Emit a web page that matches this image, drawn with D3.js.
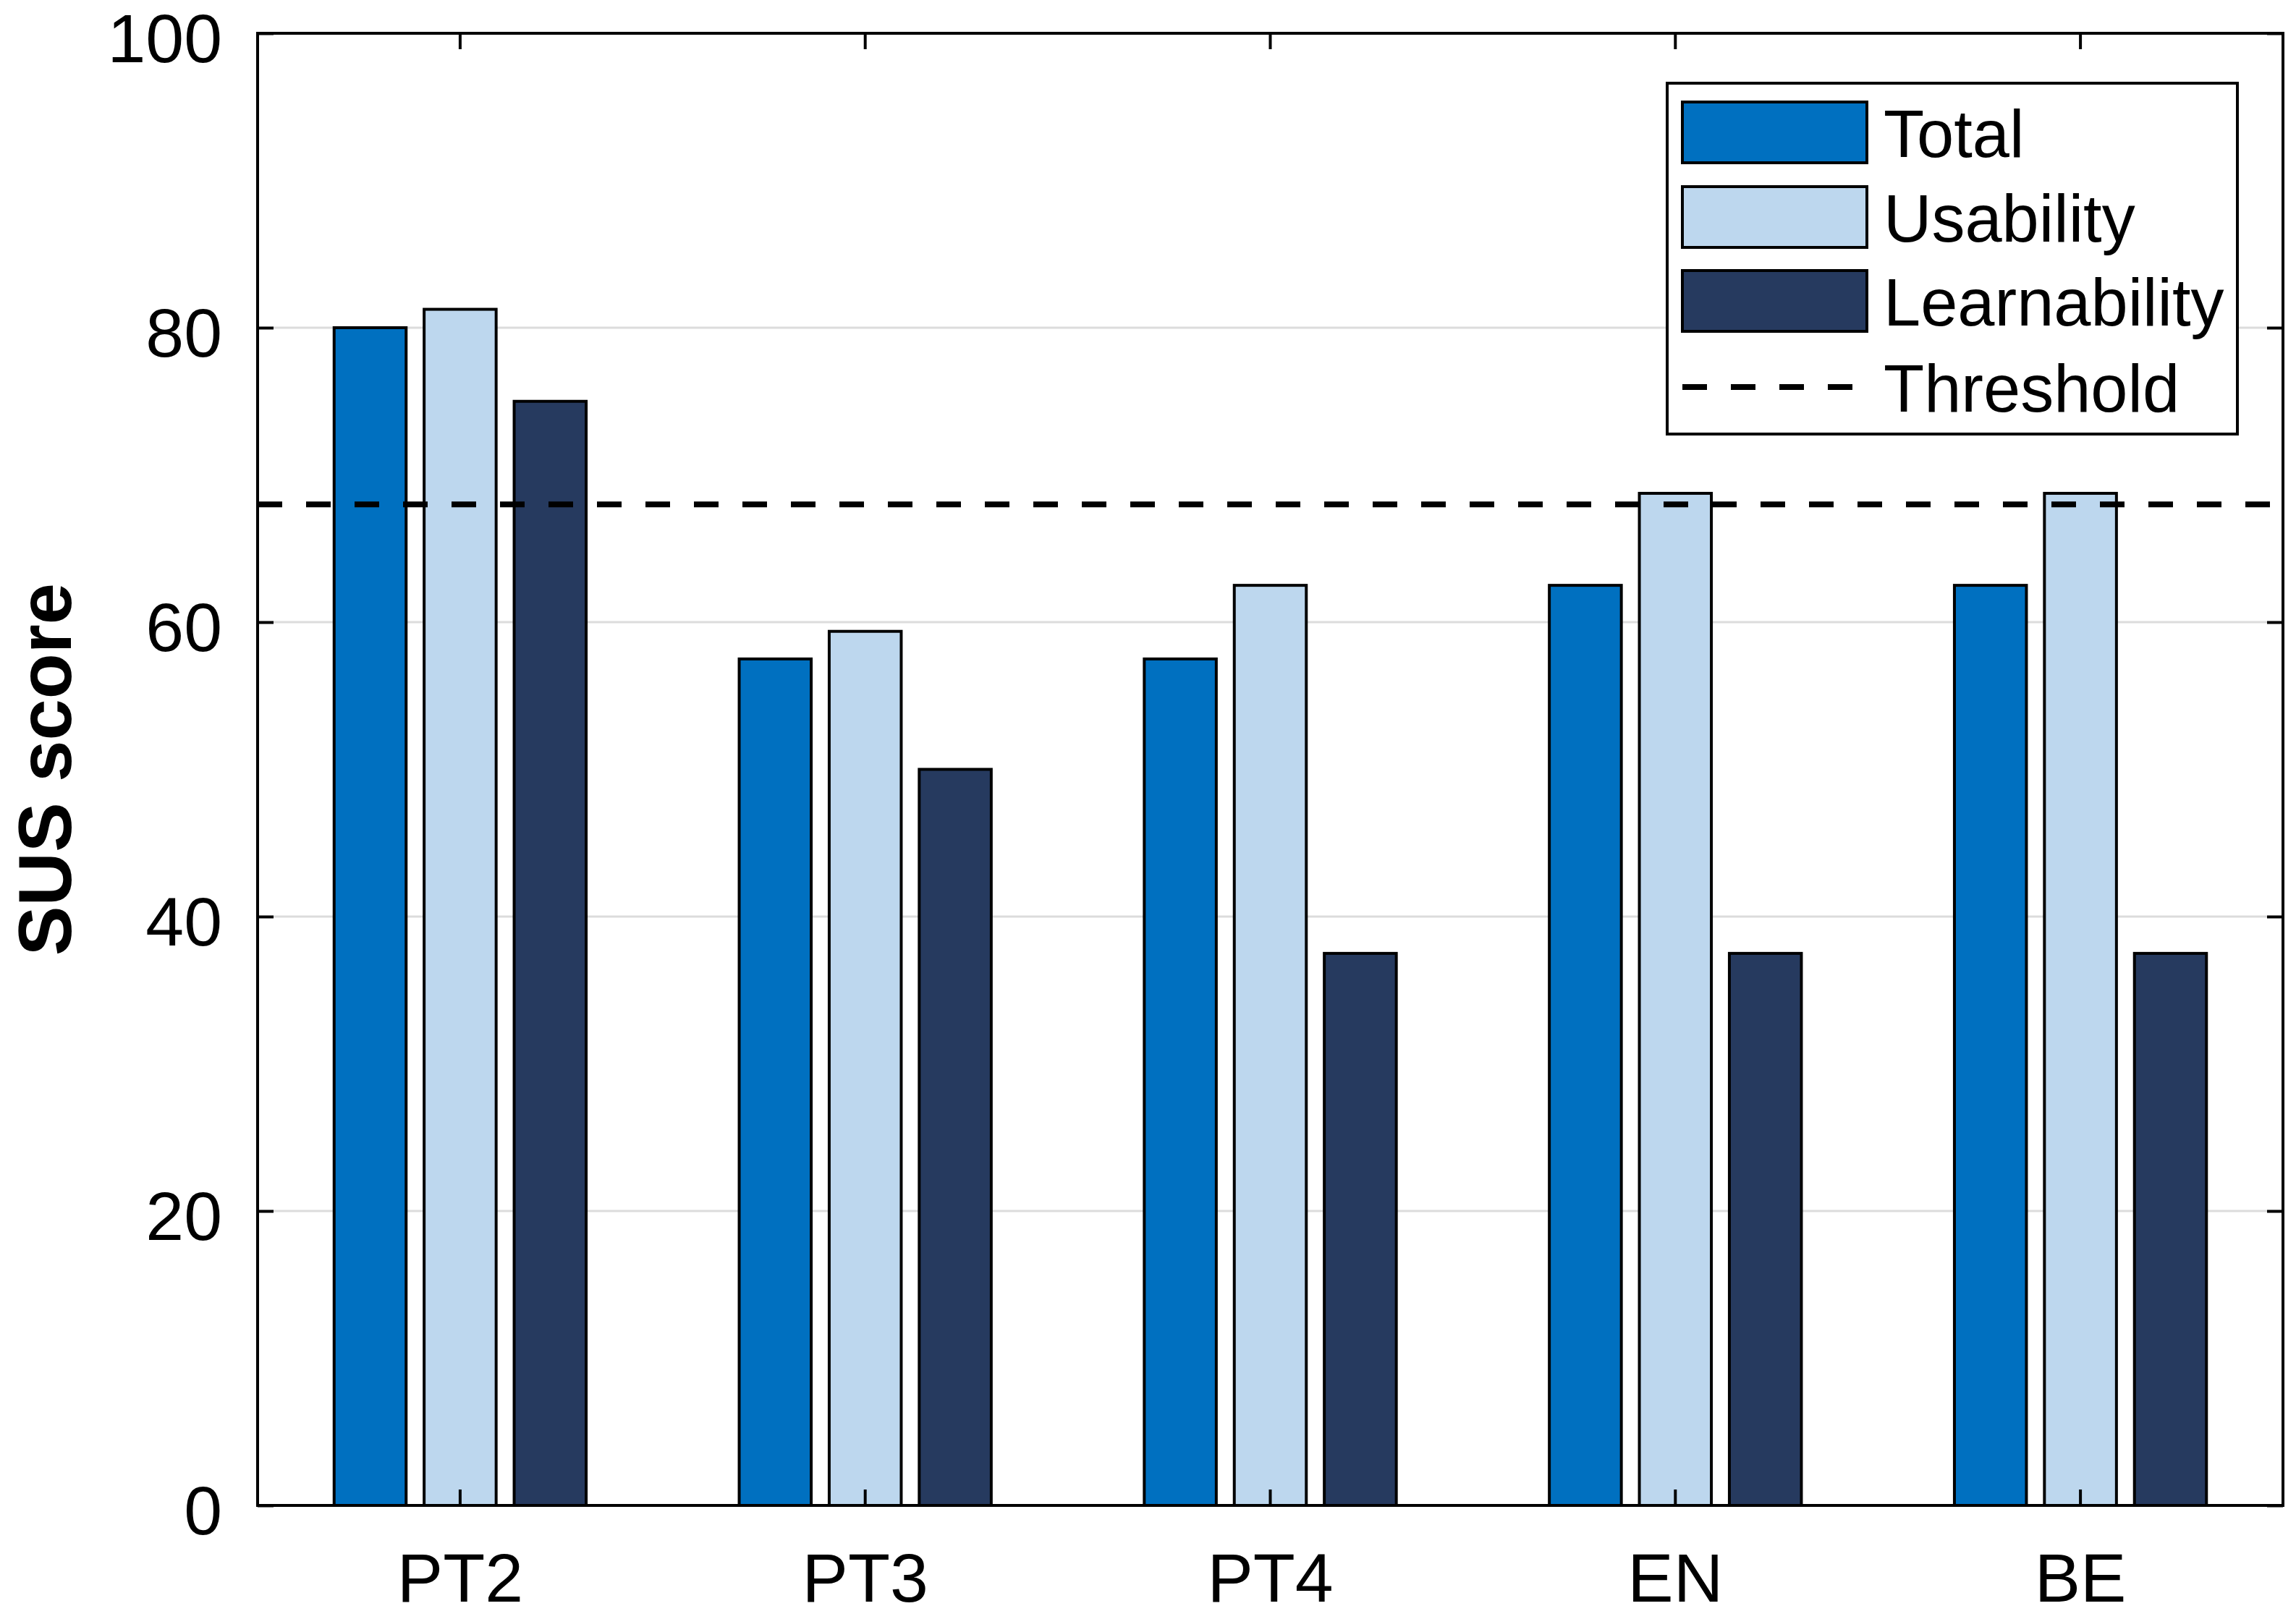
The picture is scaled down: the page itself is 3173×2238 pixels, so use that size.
<!DOCTYPE html>
<html>
<head>
<meta charset="utf-8">
<script src="https://cdn.jsdelivr.net/npm/d3@7"></script>
<style>
  html, body { margin: 0; padding: 0; background: #fff; }
  svg { display: block; }
  text { font-family: "Liberation Sans", Arial, Helvetica, sans-serif; fill: #000; }
</style>
</head>
<body>
<svg id="chart" width="3173" height="2238"></svg>
<script>
// ---- data ----
const categories = ["PT2", "PT3", "PT4", "EN", "BE"];
const seriesNames = ["Total", "Usability", "Learnability"];
const totalValues = [80, 57.5, 57.5, 62.5, 62.5];
const usabilityValues = [81.25, 59.375, 62.5, 68.75, 68.75];
const learnabilityValues = [75, 50, 37.5, 37.5, 37.5];
const thresholdValue = 68;
const thresholdLabel = "Threshold";
const yTicks = [0, 20, 40, 60, 80, 100];
const yLabel = "SUS score";
const seriesColors = ["#0070c0", "#bdd7ee", "#263a5f"];

const seriesValues = [totalValues, usabilityValues, learnabilityValues];

// ---- layout ----
const svg = d3.select("#chart");
const W = 3173, H = 2238;
const margin = { left: 356, right: W - 3155, top: 46, bottom: H - 2081 };
const plotW = W - margin.left - margin.right;
const plotH = H - margin.top - margin.bottom;
const g = svg.append("g").attr("transform", `translate(${margin.left},${margin.top})`);

const x0 = d3.scaleBand().domain(categories).range([0, plotW]).padding(0);
const groupFrac = 3 / 4.5;
const x1 = d3.scaleBand().domain(seriesNames)
  .range([-x0.bandwidth() * groupFrac / 2, x0.bandwidth() * groupFrac / 2]).padding(0);
const barW = x1.bandwidth() * 0.8;
const y = d3.scaleLinear().domain([0, 100]).range([plotH, 0]);
const color = d3.scaleOrdinal().domain(seriesNames).range(seriesColors);

// gridlines
g.append("g").selectAll("line").data(yTicks.filter(t => t > 0 && t < 100)).join("line")
  .attr("x1", 0).attr("x2", plotW)
  .attr("y1", d => y(d)).attr("y2", d => y(d))
  .attr("stroke", "#dcdcdc").attr("stroke-width", 3);

// bars
const rows = [];
categories.forEach((c, i) => seriesNames.forEach((s, j) => rows.push({ cat: c, series: s, value: seriesValues[j][i] })));
g.append("g").selectAll("rect").data(rows).join("rect")
  .attr("x", d => x0(d.cat) + x0.bandwidth() / 2 + x1(d.series) + (x1.bandwidth() - barW) / 2)
  .attr("width", barW)
  .attr("y", d => y(d.value))
  .attr("height", d => y(0) - y(d.value))
  .attr("fill", d => color(d.series))
  .attr("stroke", "#000").attr("stroke-width", 4);

// threshold line
g.append("line")
  .attr("x1", 0).attr("x2", plotW)
  .attr("y1", y(thresholdValue)).attr("y2", y(thresholdValue))
  .attr("stroke", "#000").attr("stroke-width", 8)
  .attr("stroke-dasharray", "34 33");

// axes
const tickLen = 22;
const fs = 95;
const legFs = 92;
const yAxisL = d3.axisLeft(y).tickValues(yTicks).tickSize(-tickLen).tickPadding(49);
const yAxisR = d3.axisRight(y).tickValues(yTicks).tickSize(-tickLen).tickFormat("");
const xAxisB = d3.axisBottom(x0).tickSize(-tickLen).tickPadding(66);
const xAxisT = d3.axisTop(x0).tickSize(-tickLen).tickFormat("");

function styleAxis(sel) {
  sel.select(".domain").remove();
  sel.selectAll(".tick line").attr("stroke", "#000").attr("stroke-width", 4);
  sel.selectAll(".tick text").attr("font-size", fs).attr("fill", "#000")
    .attr("font-family", '"Liberation Sans", Arial, sans-serif');
}
const gl = g.append("g").call(yAxisL).call(styleAxis);
gl.selectAll(".tick text").attr("dy", "0.42em");
g.append("g").attr("transform", `translate(${plotW},0)`).call(yAxisR).call(styleAxis);
g.append("g").attr("transform", `translate(0,${plotH})`).call(xAxisB).call(styleAxis);
g.append("g").call(xAxisT).call(styleAxis);

// box
g.append("rect").attr("x", 0).attr("y", 0).attr("width", plotW).attr("height", plotH)
  .attr("fill", "none").attr("stroke", "#000").attr("stroke-width", 4);

// y label
svg.append("text")
  .attr("transform", `translate(98,${margin.top + plotH / 2}) rotate(-90)`)
  .attr("text-anchor", "middle")
  .attr("font-size", 103).attr("font-weight", "bold")
  .text(yLabel);

// legend
const leg = svg.append("g").attr("transform", "translate(2304,115)");
leg.append("rect").attr("x", 0).attr("y", 0).attr("width", 788).attr("height", 485)
  .attr("fill", "#fff").attr("stroke", "#000").attr("stroke-width", 4);
const rowY = [68, 185, 301, 420];
seriesNames.forEach((s, j) => {
  leg.append("rect").attr("x", 21).attr("y", rowY[j] - 42).attr("width", 255).attr("height", 84)
    .attr("fill", color(s)).attr("stroke", "#000").attr("stroke-width", 4);
  leg.append("text").attr("x", 299).attr("y", rowY[j] + 34).attr("font-size", legFs).text(s);
});
leg.append("line").attr("x1", 21).attr("x2", 256).attr("y1", rowY[3]).attr("y2", rowY[3])
  .attr("stroke", "#000").attr("stroke-width", 8).attr("stroke-dasharray", "34 33");
leg.append("text").attr("x", 299).attr("y", rowY[3] + 34).attr("font-size", legFs).text(thresholdLabel);
</script>
</body>
</html>
